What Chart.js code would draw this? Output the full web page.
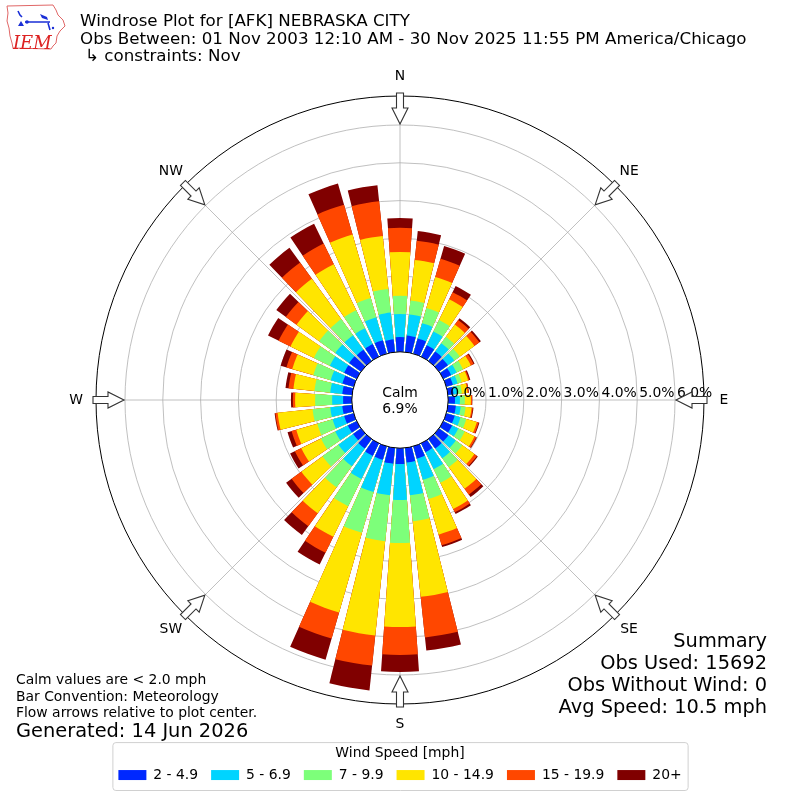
<!DOCTYPE html>
<html>
<head>
<meta charset="utf-8">
<title>Windrose Plot for [AFK] NEBRASKA CITY</title>
<script src="https://cdn.jsdelivr.net/npm/chart.js"></script>
<style>
  html, body { margin: 0; padding: 0; background: #fff; }
  #wrap { width: 800px; height: 800px; position: relative; }
</style>
</head>
<body>
<div id="wrap"><canvas id="windrose"></canvas></div>
<script>
// Wind directions (deg, meteorological) and % of obs in each speed bin
const directions = [0, 10, 20, 30, 40, 50, 60, 70, 80, 90, 100, 110, 120, 130, 140, 150, 160, 170,
                    180, 190, 200, 210, 220, 230, 240, 250, 260, 270, 280, 290, 300, 310, 320, 330, 340, 350];
const speed2to5   = [0.39, 0.44, 0.42, 0.34, 0.31, 0.29, 0.23, 0.18, 0.15, 0.18, 0.21, 0.23, 0.26, 0.31, 0.31, 0.26, 0.34, 0.39,
                     0.42, 0.42, 0.37, 0.37, 0.31, 0.26, 0.26, 0.26, 0.26, 0.23, 0.26, 0.31, 0.37, 0.39, 0.37, 0.37, 0.37, 0.34];
const speed5to7   = [0.61, 0.56, 0.42, 0.40, 0.27, 0.21, 0.16, 0.13, 0.11, 0.13, 0.13, 0.16, 0.18, 0.24, 0.32, 0.50, 0.58, 0.87,
                     0.95, 0.84, 0.89, 0.68, 0.58, 0.48, 0.37, 0.32, 0.32, 0.29, 0.32, 0.32, 0.42, 0.45, 0.47, 0.47, 0.63, 0.71];
const speed7to10  = [0.48, 0.37, 0.42, 0.34, 0.21, 0.18, 0.19, 0.11, 0.11, 0.13, 0.13, 0.16, 0.19, 0.21, 0.29, 0.40, 0.53, 0.69,
                     1.14, 1.22, 1.12, 0.80, 0.69, 0.52, 0.42, 0.42, 0.47, 0.45, 0.42, 0.48, 0.47, 0.53, 0.53, 0.53, 0.53, 0.63];
const speed10to15 = [1.16, 1.08, 0.85, 0.61, 0.40, 0.48, 0.23, 0.18, 0.15, 0.16, 0.16, 0.29, 0.29, 0.40, 0.71, 0.77, 0.98, 2.01,
                     2.22, 2.51, 2.19, 0.90, 0.85, 0.69, 0.58, 0.58, 0.93, 0.53, 0.56, 0.58, 0.69, 0.74, 1.32, 1.35, 1.75, 1.41];
const speed15to20 = [0.64, 0.51, 0.50, 0.21, 0.15, 0.16, 0.08, 0.03, 0.03, 0.03, 0.03, 0.05, 0.05, 0.08, 0.19, 0.10, 0.29, 1.08,
                     0.74, 0.80, 0.72, 0.47, 0.42, 0.32, 0.19, 0.13, 0.06, 0.06, 0.13, 0.16, 0.35, 0.35, 0.53, 0.61, 0.82, 0.92];
const speed20plus = [0.26, 0.26, 0.35, 0.18, 0.06, 0.05, 0.03, 0.03, 0.01, 0.01, 0.02, 0.02, 0.02, 0.03, 0.08, 0.05, 0.05, 0.35,
                     0.45, 0.66, 0.58, 0.35, 0.29, 0.18, 0.14, 0.11, 0.02, 0.05, 0.08, 0.16, 0.31, 0.31, 0.48, 0.58, 0.58, 0.43];
const calmPct = 6.9;

const speedLabels = ['2 - 4.9', '5 - 6.9', '7 - 9.9', '10 - 14.9', '15 - 19.9', '20+'];
const speedColors = ['#0028ff', '#00d4ff', '#7dff7a', '#ffe500', '#ff4700', '#800000'];
const ringTicks = [0, 1, 2, 3, 4, 5, 6];
const compassNames = ['N', 'NE', 'E', 'SE', 'S', 'SW', 'W', 'NW'];

const titleLines = [
  'Windrose Plot for [AFK] NEBRASKA CITY',
  'Obs Between: 01 Nov 2003 12:10 AM - 30 Nov 2025 11:55 PM America/Chicago',
  '\u21b3 constraints: Nov'
];
const summaryLines = ['Summary', 'Obs Used: 15692', 'Obs Without Wind: 0', 'Avg Speed: 10.5 mph'];
const noteLines = ['Calm values are < 2.0 mph', 'Bar Convention: Meteorology', 'Flow arrows relative to plot center.'];
const generatedText = 'Generated: 14 Jun 2026';

// radial axis: 0% sits on the calm circle, outer ring just past 6.7%
const R_MIN = -1.275;
const R_MAX = 6.767;
const BAR_DEG = 8;
const GAP_DEG = 2;
const START_DEG = -BAR_DEG / 2;
const FONT = "'DejaVu Sans', sans-serif";

Chart.defaults.font.family = FONT;
Chart.defaults.color = '#000';

// one label per degree so angle lines can sit on the compass points
const degreeLabels = Array.from({length: 360}, (_, i) => (i + START_DEG + 360) % 360);
const indexForBearing = b => (b - START_DEG + 360) % 360;

const bins = [speed2to5, speed5to7, speed7to10, speed10to15, speed15to20, speed20plus];

// stacked: each dataset is the running total, smallest drawn on top
const datasets = bins.map((_, k) => ({
  label: speedLabels[k],
  data: directions.flatMap((d, i) => {
    let cum = 0;
    for (let j = 0; j <= k; j++) cum += bins[j][i];
    return [cum, R_MIN];
  }),
  backgroundColor: speedColors[k],
  borderWidth: 0,
  angle: c => (c.dataIndex % 2 ? GAP_DEG : BAR_DEG)
}));

function drawArrow(ctx, scale, idx, outer) {
  const pt = (r, w) => {
    const c = scale.getPointPosition(idx, r);
    return [c.x - Math.sin(c.angle) * w, c.y + Math.cos(c.angle) * w];
  };
  const pts = [pt(outer + 3, -3.5), pt(outer - 12, -3.5), pt(outer - 12, -8), pt(outer - 28, 0),
               pt(outer - 12, 8), pt(outer - 12, 3.5), pt(outer + 3, 3.5)];
  ctx.beginPath();
  pts.forEach((p, i) => (i ? ctx.lineTo(p[0], p[1]) : ctx.moveTo(p[0], p[1])));
  ctx.closePath();
  ctx.fillStyle = '#fff';
  ctx.fill();
  ctx.strokeStyle = '#333';
  ctx.lineWidth = 1.1;
  ctx.stroke();
}

function drawLogo(ctx) {
  ctx.save();
  // state outline
  const outline = [[7, 6], [53, 5], [56, 10], [58, 15], [63, 20], [65, 26], [60, 31], [57, 36], [56, 43],
                   [53, 46], [51, 49], [13, 48], [12, 43], [10, 36], [9, 28], [7, 21], [8, 13]];
  ctx.beginPath();
  outline.forEach((p, i) => (i ? ctx.lineTo(p[0], p[1]) : ctx.moveTo(p[0], p[1])));
  ctx.closePath();
  ctx.strokeStyle = '#e06666';
  ctx.lineWidth = 1;
  ctx.stroke();
  // little blue station sketch
  ctx.strokeStyle = '#1a2fd6';
  ctx.fillStyle = '#1a2fd6';
  ctx.lineWidth = 1.6;
  ctx.beginPath();
  ctx.moveTo(18, 11); ctx.lineTo(20, 15); ctx.lineTo(22, 17);
  ctx.moveTo(25, 22); ctx.lineTo(50, 22);
  ctx.moveTo(48, 23); ctx.lineTo(50, 30);
  ctx.stroke();
  ctx.beginPath();
  ctx.moveTo(40, 14); ctx.lineTo(47, 17); ctx.lineTo(48, 20); ctx.lineTo(42, 18);
  ctx.closePath(); ctx.fill();
  ctx.beginPath();
  ctx.moveTo(18, 26); ctx.lineTo(21, 21); ctx.lineTo(24, 26);
  ctx.closePath(); ctx.fill();
  ctx.beginPath(); ctx.arc(27, 22, 1.8, 0, Math.PI * 2); ctx.fill();
  ctx.beginPath(); ctx.arc(53, 28, 1.2, 0, Math.PI * 2); ctx.fill();
  ctx.fillStyle = '#d22';
  ctx.font = "italic 18px 'DejaVu Serif', serif";
  ctx.textAlign = 'left';
  ctx.fillText('IEM', 13, 44);
  ctx.restore();
}

const decorations = {
  id: 'windroseDecor',
  afterDraw(chart) {
    const ctx = chart.ctx;
    const s = chart.scales.r;
    const cx = s.xCenter, cy = s.yCenter;
    const outer = s.drawingArea;
    const calmR = s.getDistanceFromCenterForValue(0);
    ctx.save();

    // calm circle
    ctx.beginPath();
    ctx.arc(cx, cy, calmR, 0, Math.PI * 2);
    ctx.fillStyle = '#fff';
    ctx.fill();
    ctx.lineWidth = 1;
    ctx.strokeStyle = '#000';
    ctx.stroke();
    ctx.fillStyle = '#000';
    ctx.font = '13.9px ' + FONT;
    ctx.textAlign = 'center';
    ctx.textBaseline = 'alphabetic';
    ctx.fillText('Calm', cx, cy - 3);
    ctx.fillText(calmPct.toFixed(1) + '%', cx, cy + 13);

    // ring labels along E
    ctx.textAlign = 'left';
    ringTicks.forEach(v => {
      ctx.fillText(v.toFixed(1) + '%', cx + s.getDistanceFromCenterForValue(v) + 2, cy - 3);
    });

    // compass arrows and names
    compassNames.forEach((name, k) => {
      const idx = indexForBearing(k * 45);
      drawArrow(ctx, s, idx, outer);
      const p = s.getPointPosition(idx, outer + 20);
      ctx.fillStyle = '#000';
      ctx.textAlign = 'center';
      ctx.textBaseline = 'middle';
      ctx.fillText(name, p.x, p.y);
    });

    // legend frame
    const lg = chart.legend;
    if (lg && lg.legendHitBoxes.length) {
      const hb = lg.legendHitBoxes;
      const left = Math.min(...hb.map(b => b.left)) - 6;
      const right = Math.max(...hb.map(b => b.left + b.width)) + 6;
      const top = lg.top + lg.options.title.padding.top - 4;
      const bottom = hb[0].top + hb[0].height + 8;
      ctx.beginPath();
      ctx.roundRect(left + 0.5, top + 0.5, right - left, bottom - top, 3);
      ctx.strokeStyle = '#d0d0d0';
      ctx.lineWidth = 1;
      ctx.stroke();
    }

    // header
    ctx.fillStyle = '#000';
    ctx.textBaseline = 'alphabetic';
    ctx.textAlign = 'left';
    ctx.font = '16.7px ' + FONT;
    ctx.fillText(titleLines[0], 80, 26);
    ctx.fillText(titleLines[1], 80, 44);
    ctx.fillText(titleLines[2], 85, 61);

    // summary block
    ctx.font = '19.4px ' + FONT;
    ctx.textAlign = 'right';
    summaryLines.forEach((t, i) => ctx.fillText(t, 767, 647 + i * 22));

    // notes
    ctx.textAlign = 'left';
    ctx.font = '13.9px ' + FONT;
    noteLines.forEach((t, i) => ctx.fillText(t, 16, 684 + i * 16.5));
    ctx.font = '19.4px ' + FONT;
    ctx.fillText(generatedText, 16, 737);

    ctx.restore();
    drawLogo(ctx);
  }
};

new Chart(document.getElementById('windrose'), {
  type: 'polarArea',
  data: { labels: degreeLabels, datasets: datasets },
  options: {
    responsive: true,
    maintainAspectRatio: false,
    animation: false,
    events: [],
    layout: { padding: { top: 90, bottom: 8, left: 96, right: 96 } },
    scales: {
      r: {
        min: R_MIN,
        max: R_MAX,
        startAngle: START_DEG,
        afterBuildTicks: sc => { sc.ticks = ringTicks.concat([R_MAX]).map(v => ({value: v})); },
        ticks: { display: false, z: 1 },
        grid: {
          circular: true,
          color: c => (c.tick && c.tick.value === R_MAX ? '#000' : '#b0b0b0'),
          lineWidth: c => (c.tick && c.tick.value === R_MAX ? 1 : 0.8)
        },
        angleLines: {
          display: true,
          color: c => ((c.index + START_DEG + 360) % 45 === 0 ? '#b0b0b0' : 'rgba(0,0,0,0)'),
          lineWidth: c => ((c.index + START_DEG + 360) % 45 === 0 ? 0.8 : 0)
        },
        pointLabels: { display: false }
      }
    },
    plugins: {
      tooltip: { enabled: false },
      legend: {
        position: 'bottom',
        onClick: null,
        title: {
          display: true,
          text: 'Wind Speed [mph]',
          color: '#000',
          padding: { top: 36, bottom: 0 },
          font: { size: 13.9, lineHeight: '9px' }
        },
        labels: {
          boxWidth: 28,
          boxHeight: 10,
          padding: 13,
          color: '#000',
          font: { size: 13.9 },
          generateLabels: chart => chart.data.datasets.map((ds, i) => ({
            text: ds.label,
            fillStyle: ds.backgroundColor,
            strokeStyle: ds.backgroundColor,
            lineWidth: 0,
            hidden: false,
            datasetIndex: i
          }))
        }
      }
    }
  },
  plugins: [decorations]
});
</script>
</body>
</html>
